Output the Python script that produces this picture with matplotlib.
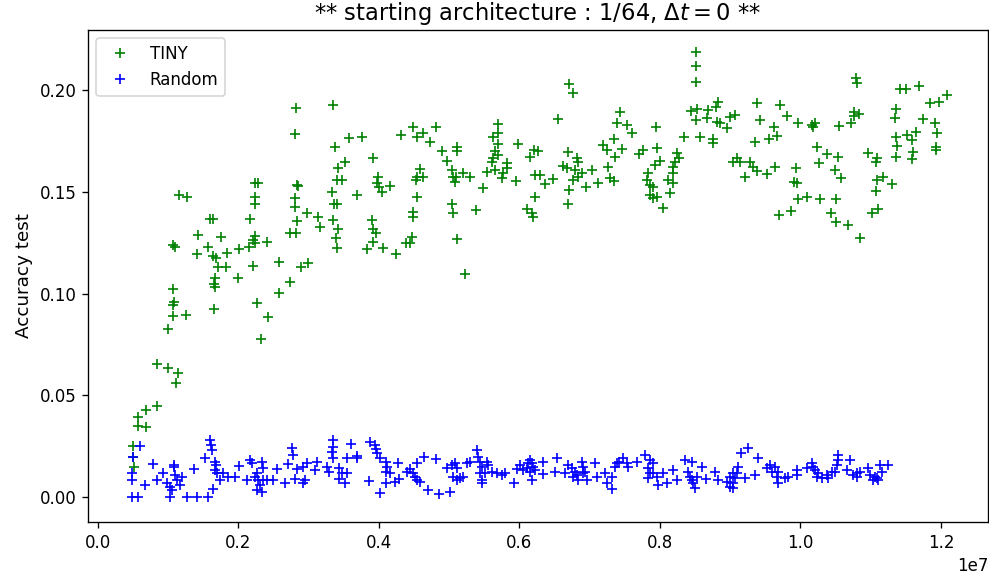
import matplotlib
matplotlib.use("Agg")
import matplotlib.pyplot as plt
import numpy as np

# TINY runs: x in units of 1e5, accuracy
tiny_x = [
    4.98, 4.98, 5.12, 5.69, 5.69, 6.83, 6.83, 8.40, 8.40, 9.96, 11.39, 11.10, 9.96, 10.68, 12.53,
    10.68, 10.82, 10.68, 10.68, 10.96, 11.53, 12.67, 14.09, 14.24, 15.66, 15.94, 16.37, 16.37, 16.80,
    16.51, 16.65, 16.51, 16.65, 17.08, 18.22, 17.51, 18.36, 19.93, 20.07, 21.49, 21.64, 22.06, 22.35,
    22.35, 22.06, 22.35, 22.78, 22.35, 22.35, 22.63, 23.20, 24.06, 24.20, 25.77, 25.77, 27.33, 27.33,
    28.19, 28.04, 28.04, 28.33, 28.33, 28.47, 28.04, 28.19, 28.90, 29.89, 29.75, 31.32, 31.60,
    33.45, 33.74, 34.16, 34.73, 34.02, 33.31, 34.02, 33.59, 33.45, 34.16, 33.88, 34.02, 35.16, 35.73,
    37.58, 36.87, 39.15, 39.86, 39.72, 40.00, 40.43, 41.57, 39.00, 39.15, 39.57, 39.15, 38.29, 40.57,
    42.42, 43.84, 44.41, 44.70, 43.13, 44.84, 45.41, 46.26, 47.26, 48.11, 45.84, 45.41, 46.26, 45.27,
    45.41, 44.84, 44.84, 48.97, 49.68, 50.39, 50.53, 50.96, 51.96, 52.95, 50.82, 51.10, 51.10, 50.39,
    50.53, 51.10, 52.24, 54.80, 53.81, 56.94, 56.94, 56.23, 56.94, 56.51, 56.94, 56.23, 56.09, 55.37,
    56.51, 57.65, 58.22, 58.22, 57.51, 59.79, 59.50, 62.06, 62.63, 61.50, 62.21, 62.92, 63.63, 64.77,
    62.21, 61.07, 61.78, 61.92, 65.48, 67.05, 67.62, 66.90, 68.19, 68.33, 66.19, 66.76, 67.90, 67.62,
    68.33, 70.32, 69.47, 71.18, 67.05, 66.90, 68.90, 71.89, 72.46, 74.59, 73.59, 72.60, 72.88, 73.45,
    73.45, 74.31, 73.88, 75.30, 76.01, 77.01, 77.58, 79.57, 79.43, 80.00, 79.29, 78.29, 78.15, 78.58,
    79.00, 78.58, 79.57, 79.00, 80.43, 81.42, 81.14, 81.85, 81.85, 81.85, 82.14, 82.42, 82.71, 83.42,
    84.42, 85.27, 86.83, 85.12, 86.69, 85.12, 85.12, 85.12, 85.69, 87.55, 87.55, 87.97, 88.26, 88.11,
    88.54, 89.54, 89.97, 90.68, 90.39, 90.96, 91.39, 92.10, 92.81, 93.24, 93.52, 93.81, 93.81, 94.24,
    95.23, 95.52, 96.23, 96.66, 96.37, 97.08, 96.94, 98.08, 98.65, 99.08, 99.36, 99.50, 99.65, 99.65,
    100.93, 101.64, 101.78, 102.06, 102.35, 102.63, 102.78, 103.77, 104.34, 104.91, 105.05, 105.05,
    105.34, 105.48, 105.77, 106.76, 107.19, 107.62, 107.62, 107.90, 108.04, 108.33, 108.47, 109.61,
    110.18, 110.75, 110.75, 110.89, 110.89, 111.03, 111.74, 113.03, 113.45, 113.60, 113.60, 113.60,
    113.74, 114.16, 115.02, 115.16, 115.87, 115.87, 116.02, 116.44, 116.87, 117.44, 118.44, 119.15,
    119.29, 119.29, 119.43, 119.72, 120.86,
]
tiny_acc = [
    0.0251, 0.0197, 0.0147, 0.0393, 0.0349, 0.0428, 0.0344, 0.0447, 0.0654, 0.0634, 0.0609, 0.0560,
    0.0826, 0.0889, 0.0894, 0.0943, 0.0958, 0.1022, 0.1238, 0.1229, 0.1484, 0.1474, 0.1194, 0.1287,
    0.1229, 0.1366, 0.1366, 0.1184, 0.1174, 0.0924, 0.1076, 0.1047, 0.1032, 0.1130, 0.1130, 0.1278,
    0.1199, 0.1076, 0.1219, 0.1229, 0.1366, 0.1263, 0.1283, 0.1248, 0.1135, 0.1543, 0.1543, 0.1474,
    0.1440, 0.0953, 0.0776, 0.1253, 0.0885, 0.1155, 0.1002, 0.1057, 0.1297, 0.1297, 0.1469, 0.1425,
    0.1356, 0.1533, 0.1528, 0.1784, 0.1912, 0.1130, 0.1150, 0.1396, 0.1376, 0.1327,
    0.1926, 0.1720, 0.1617, 0.1558, 0.1558, 0.1499, 0.1440, 0.1440, 0.1361, 0.1317, 0.1273, 0.1224,
    0.1646, 0.1764, 0.1769, 0.1484, 0.1666, 0.1572, 0.1543, 0.1523, 0.1499, 0.1528, 0.1361, 0.1317,
    0.1297, 0.1253, 0.1219, 0.1224, 0.1194, 0.1248, 0.1248, 0.1278, 0.1779, 0.1818, 0.1769, 0.1789,
    0.1744, 0.1818, 0.1612, 0.1572, 0.1572, 0.1558, 0.1474, 0.1400, 0.1376, 0.1700, 0.1651, 0.1607,
    0.1572, 0.1572, 0.1592, 0.1572, 0.1548, 0.1720, 0.1700, 0.1440, 0.1396, 0.1268, 0.1096, 0.1518,
    0.1410, 0.1833, 0.1789, 0.1769, 0.1735, 0.1700, 0.1681, 0.1666, 0.1646, 0.1597, 0.1607, 0.1592,
    0.1617, 0.1641, 0.1568, 0.1735, 0.1553, 0.1705, 0.1700, 0.1671, 0.1582, 0.1582, 0.1538, 0.1563,
    0.1474, 0.1415, 0.1396, 0.1376, 0.1857, 0.2029, 0.1985, 0.1695, 0.1666, 0.1646, 0.1627, 0.1617,
    0.1607, 0.1558, 0.1572, 0.1607, 0.1523, 0.1543, 0.1509, 0.1440, 0.1592, 0.1730, 0.1705, 0.1710,
    0.1671, 0.1622, 0.1568, 0.1553, 0.1759, 0.1892, 0.1838, 0.1828, 0.1789, 0.1686, 0.1705, 0.1715,
    0.1818, 0.1651, 0.1631, 0.1592, 0.1558, 0.1533, 0.1523, 0.1484, 0.1474, 0.1469, 0.1420, 0.1494,
    0.1558, 0.1543, 0.1622, 0.1592, 0.1646, 0.1690, 0.1666, 0.1769, 0.1897, 0.1907, 0.1902, 0.1853,
    0.1862, 0.2187, 0.2118, 0.2039, 0.1769, 0.1759, 0.1740, 0.1916, 0.1941, 0.1843, 0.1838, 0.1813,
    0.1867, 0.1877, 0.1646, 0.1666, 0.1646, 0.1572, 0.1646, 0.1622, 0.1744, 0.1602, 0.1936, 0.1853,
    0.1587, 0.1759, 0.1818, 0.1774, 0.1622, 0.1926, 0.1386, 0.1872, 0.1405, 0.1548, 0.1617, 0.1543,
    0.1838, 0.1464, 0.1474, 0.1828, 0.1818, 0.1838, 0.1720, 0.1641, 0.1464, 0.1686, 0.1396, 0.1607,
    0.1464, 0.1351, 0.1671, 0.1823, 0.1568, 0.1337, 0.1838, 0.1892, 0.1872, 0.2059, 0.2034, 0.1882,
    0.1273, 0.1690, 0.1396, 0.1646, 0.1504, 0.1666, 0.1558, 0.1415, 0.1572, 0.1538, 0.1862, 0.1907,
    0.1769, 0.1671, 0.1725, 0.2005, 0.2005, 0.1779, 0.1754, 0.1661, 0.1695, 0.1794, 0.2020, 0.1857,
    0.1936, 0.1838, 0.1720, 0.1705, 0.1789, 0.1941, 0.1975,
]

# Random runs
random_x = [
    5.98, 4.98, 4.84, 4.84, 4.84, 6.69, 7.83, 8.40, 9.25, 10.82, 10.82, 9.82, 10.25, 10.25, 10.53,
    11.25, 11.67, 11.96, 10.96, 5.69, 12.67, 14.09, 15.66, 13.67, 15.94, 16.09, 16.23, 15.23, 16.65,
    16.65, 16.80, 16.94, 16.37, 17.79, 18.51, 19.50, 17.37, 20.07, 21.21, 21.64, 21.92, 23.35, 23.49,
    23.49, 22.63, 22.63, 22.35, 22.78, 23.06, 23.35, 24.06, 24.91, 25.48, 26.62, 27.05, 27.62, 27.76,
    28.33, 28.04,
    33.45, 33.45, 33.45, 33.31, 36.01, 35.45, 35.45, 36.87, 36.87, 38.72, 39.43, 39.57, 39.72, 40.14,
    41.00, 41.00, 41.00, 41.14, 41.57, 31.17, 29.75, 29.18, 29.18, 30.89, 32.60, 32.88, 34.31, 34.31,
    34.73, 35.16, 29.47, 38.58, 40.14, 42.71, 42.85, 42.28, 44.41, 43.99, 44.84, 45.41, 45.41, 46.41,
    45.13, 45.84, 46.98, 48.54, 50.11, 48.11, 49.68, 50.39, 50.82, 51.10, 51.10, 50.53, 51.53, 51.96,
    52.53, 52.95, 53.95, 54.09, 54.38, 54.38, 54.66, 54.66, 54.66, 55.37, 55.52, 55.09, 56.09, 56.80,
    57.94, 57.51, 59.22, 60.07, 59.64, 60.50, 61.50, 61.50, 61.21, 61.78, 61.78, 61.92, 61.07, 62.21,
    63.35, 63.35, 65.34, 65.05, 66.48, 66.90, 67.47, 67.90, 68.19, 68.33, 67.62, 68.90, 69.04, 69.04,
    69.32, 69.61, 70.75, 71.03, 72.17, 72.46, 73.17, 73.17, 73.59, 73.88, 74.16, 74.73, 75.30, 75.45,
    76.73, 77.87, 78.58, 78.58, 79.00, 79.00, 78.29, 78.29, 79.57, 79.72, 80.43, 80.99, 81.85, 82.42,
    83.56, 84.55, 84.55, 83.99, 84.27, 84.70, 84.98, 85.27, 85.98,
    86.55, 87.83, 88.26, 89.54, 89.97, 89.97, 90.39, 90.39, 90.39, 90.68, 91.11, 90.96, 92.10, 91.53,
    92.53, 93.95, 93.52, 95.23, 95.66, 95.94, 96.37, 96.80, 96.80, 96.66, 97.79, 98.22, 99.50, 99.50,
    100.93, 101.64, 101.78, 102.06, 102.49, 102.35, 103.06, 103.77, 103.92, 104.48, 104.91, 105.20,
    105.34, 105.34, 106.62, 107.05, 108.04, 108.04, 108.47, 107.47, 109.61, 109.89, 110.32, 110.60,
    111.32, 111.60, 112.46, 111.03, 110.89,
]
random_acc = [
    0.0251, 0.0197, 0.0118, 0.0084, 0.0, 0.0059, 0.0162, 0.0084, 0.0118, 0.0157, 0.0147, 0.0069,
    0.0049, 0.0, 0.0034, 0.0084, 0.0059, 0.0098, 0.0108, 0.0, 0.0, 0.0, 0.0, 0.0138, 0.0280, 0.0256,
    0.0231, 0.0192, 0.0172, 0.0133, 0.0157, 0.0118, 0.0039, 0.0118, 0.0098, 0.0098, 0.0084, 0.0152,
    0.0084, 0.0182, 0.0167, 0.0172, 0.0143, 0.0084, 0.0118, 0.0034, 0.0098, 0.0084, 0.0059, 0.0025,
    0.0084, 0.0084, 0.0138, 0.0069, 0.0162, 0.0241, 0.0206, 0.0138, 0.0088,
    0.0280, 0.0246, 0.0192, 0.0221, 0.0260, 0.0192, 0.0118, 0.0201, 0.0192, 0.0270, 0.0256, 0.0236,
    0.0216, 0.0192, 0.0172, 0.0123, 0.0069, 0.0147, 0.0118, 0.0172, 0.0167, 0.0147, 0.0069, 0.0133,
    0.0147, 0.0123, 0.0143, 0.0088, 0.0118, 0.0069, 0.0084, 0.0079, 0.0020, 0.0167, 0.0088, 0.0074,
    0.0138, 0.0123, 0.0118, 0.0167, 0.0084, 0.0197, 0.0098, 0.0074, 0.0034, 0.0015, 0.0025, 0.0187,
    0.0143, 0.0157, 0.0167, 0.0143, 0.0084, 0.0098, 0.0093, 0.0098, 0.0167, 0.0172, 0.0231, 0.0197,
    0.0172, 0.0118, 0.0147, 0.0084, 0.0069, 0.0172, 0.0157, 0.0118, 0.0123, 0.0118,
    0.0118, 0.0108, 0.0069, 0.0157, 0.0138, 0.0133, 0.0182, 0.0123, 0.0167, 0.0167, 0.0084, 0.0147,
    0.0143, 0.0133, 0.0172, 0.0113, 0.0192, 0.0123, 0.0118, 0.0157, 0.0143, 0.0123, 0.0108, 0.0084,
    0.0098, 0.0172, 0.0147, 0.0118, 0.0123, 0.0084, 0.0167, 0.0098, 0.0118, 0.0069, 0.0039, 0.0098,
    0.0147, 0.0167, 0.0172, 0.0192, 0.0167, 0.0147, 0.0172, 0.0206, 0.0182, 0.0118, 0.0167, 0.0118,
    0.0143, 0.0093, 0.0098, 0.0059, 0.0118, 0.0069, 0.0133, 0.0084, 0.0182, 0.0172, 0.0084, 0.0123,
    0.0098, 0.0069, 0.0044, 0.0098, 0.0147,
    0.0088, 0.0123, 0.0084, 0.0074, 0.0098, 0.0049, 0.0118, 0.0069, 0.0044, 0.0093, 0.0147, 0.0118,
    0.0093, 0.0216, 0.0241, 0.0192, 0.0108, 0.0143, 0.0157, 0.0123, 0.0147, 0.0123, 0.0069, 0.0098,
    0.0093, 0.0098, 0.0133, 0.0108, 0.0143, 0.0167, 0.0147, 0.0133, 0.0118, 0.0098, 0.0093, 0.0108,
    0.0093, 0.0123, 0.0123, 0.0157, 0.0182, 0.0206, 0.0133, 0.0182, 0.0118, 0.0098, 0.0123, 0.0108,
    0.0143, 0.0108, 0.0084, 0.0098, 0.0157, 0.0123, 0.0157, 0.0084, 0.0093,
]

# rendered at a higher dpi so text and markers come out a bit larger
DPI = 120
fig = plt.figure(figsize=(989 / DPI, 575 / DPI), dpi=DPI)
ax = fig.add_axes([0.089, 0.092, 0.910, 0.856])

ax.plot(np.array(tiny_x) * 1e5, tiny_acc, "+", color="g", label="TINY")
ax.plot(np.array(random_x) * 1e5, random_acc, "+", color="b", label="Random")

ax.set_xlim(-1.4e5, 1.267e7)
ax.set_ylim(-0.0123, 0.2295)
ax.set_ylabel("Accuracy test", fontsize=11)
ax.set_title(r"** starting architecture : 1/64, $\Delta t = 0$ **", fontsize=13.6)
ax.legend(loc="upper left")

fig.savefig("out.png", dpi=DPI)
